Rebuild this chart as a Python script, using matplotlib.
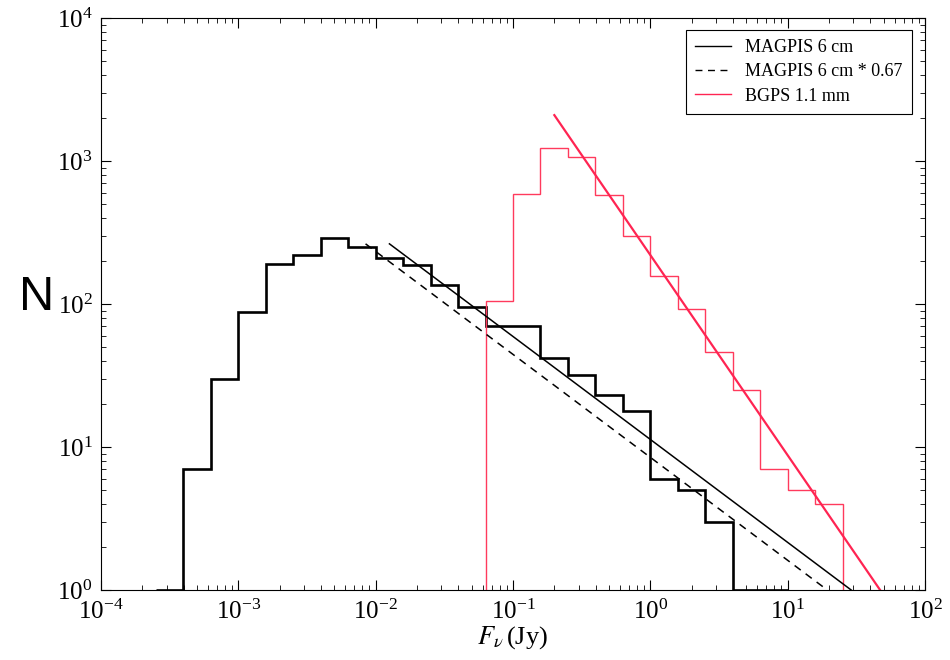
import matplotlib
matplotlib.use("Agg")
import matplotlib.pyplot as plt
import numpy as np

# MAGPIS 6 cm flux histogram (0.2 dex bins)
magpis_edges_log = [-3.6, -3.4, -3.2, -3.0, -2.8, -2.6, -2.4, -2.2, -2.0, -1.8, -1.6, -1.4,
                    -1.2, -1.0, -0.8, -0.6, -0.4, -0.2, 0.0, 0.2, 0.4, 0.6, 0.8, 1.0]
magpis_counts = [1, 7, 30, 88, 190, 220, 290, 250, 210, 186, 136, 95,
                 70, 70, 42, 32, 23, 18, 6, 5, 3, 1, 1]

# BGPS 1.1 mm flux histogram
bgps_edges_log = [-1.2, -1.0, -0.8, -0.6, -0.4, -0.2, 0.0, 0.2, 0.4, 0.6, 0.8, 1.0, 1.2, 1.4]
bgps_counts = [105, 585, 1240, 1060, 575, 300, 158, 92, 46, 25, 7, 5, 4]

# power-law fits N = norm * F^slope
magpis_slope, magpis_norm = -0.72, 11.3
magpis_fit_range = [0.0126, 29.0]
magpis_scale = 0.67
bgps_slope, bgps_norm = -1.4, 220.0
bgps_fit_range = [0.2, 47.0]

plt.rcParams["font.family"] = ["Liberation Serif", "DejaVu Serif"]
plt.rcParams["mathtext.fontset"] = "stix"
plt.rcParams["axes.unicode_minus"] = False

fig = plt.figure(figsize=(9.5, 6.6), dpi=100)
ax = fig.add_axes([0.1063, 0.106, 0.8674, 0.8667])

magpis_edges = 10.0 ** np.array(magpis_edges_log)
bgps_edges = 10.0 ** np.array(bgps_edges_log)
ax.stairs(magpis_counts, magpis_edges, baseline=1, color="black", linewidth=1.9)
ax.stairs(bgps_counts, bgps_edges, baseline=1, color="#ff3a5c", linewidth=1.0)

fx = np.array(magpis_fit_range)
fy = magpis_norm * fx ** magpis_slope
ax.plot(fx, fy, color="black", linewidth=1.1, label="MAGPIS 6 cm")
ax.plot(fx * magpis_scale, fy, color="black", linewidth=1.1, linestyle=(0, (5, 4)),
        label="MAGPIS 6 cm * 0.67")

bx = np.array(bgps_fit_range)
by = bgps_norm * bx ** bgps_slope
ax.plot(bx, by, color="#ff2452", linewidth=1.6, label="BGPS 1.1 mm")

ax.set_xscale("log")
ax.set_yscale("log")
ax.set_xlim(1e-4, 1e2)
ax.set_ylim(1e0, 1e4)

ax.tick_params(which="both", direction="in", top=True, right=True, labelsize=18)
ax.tick_params(which="major", length=7, width=0.8)
ax.tick_params(which="minor", length=3.5, width=0.6)
ax.tick_params(axis="x", pad=7)
ax.tick_params(axis="y", pad=6)

ax.set_xlabel(r"$F_\nu\,$(Jy)", fontsize=19, labelpad=0)
ax.set_ylabel("N", rotation=0, fontsize=35, family=["Liberation Sans", "DejaVu Sans"])
ax.yaxis.set_label_coords(-0.078, 0.472)

leg = ax.legend(loc="upper right", fontsize=13, handlelength=2.0, fancybox=False,
                framealpha=1, edgecolor="black", borderpad=0.5, labelspacing=0.4,
                borderaxespad=0, bbox_to_anchor=(0.984, 0.979))
leg.get_frame().set_linewidth(0.8)
for line in leg.get_lines():
    line.set_linewidth(1.0)

fig.savefig("out.png", dpi=100)
